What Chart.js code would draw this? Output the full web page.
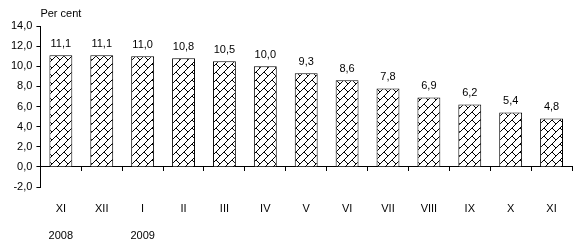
<!DOCTYPE html>
<html>
<head>
<meta charset="utf-8">
<script src="https://cdn.jsdelivr.net/npm/chart.js@4/dist/chart.umd.min.js"></script>
<style>
  html, body { margin: 0; padding: 0; background: #fff; }
  #wrap { width: 576px; height: 247px; }
</style>
</head>
<body>
<div id="wrap"><canvas id="rateChart" width="576" height="247"></canvas></div>
<script>
const months = ['XI', 'XII', 'I', 'II', 'III', 'IV', 'V', 'VI', 'VII', 'VIII', 'IX', 'X', 'XI'];
const years = ['2008', '', '2009', '', '', '', '', '', '', '', '', '', ''];
const rates = [11.1, 11.1, 11.0, 10.8, 10.5, 10.0, 9.3, 8.6, 7.8, 6.9, 6.2, 5.4, 4.8];
const yMin = -2;
const yMax = 14;
const yStep = 2;
const unitLabel = 'Per cent';

const FONT = "'Liberation Sans', Arial, sans-serif";
Chart.defaults.font.family = FONT;
Chart.defaults.font.size = 11;
Chart.defaults.color = '#000';

// diagonal brick hatch, like the old spreadsheet fill
function brickPattern() {
  const c = document.createElement('canvas');
  c.width = 8; c.height = 8;
  const g = c.getContext('2d');
  g.fillStyle = '#fff';
  g.fillRect(0, 0, 8, 8);
  g.strokeStyle = '#000';
  g.lineWidth = 1;
  g.beginPath();
  g.moveTo(-1, 9); g.lineTo(9, -1);
  g.moveTo(-1, 1); g.lineTo(1, -1);
  g.moveTo(7, 9); g.lineTo(9, 7);
  g.moveTo(0, 0); g.lineTo(4, 4);
  g.stroke();
  return g.createPattern(c, 'repeat');
}

const valueLabels = {
  id: 'valueLabels',
  afterDatasetsDraw(chart) {
    const ctx = chart.ctx;
    const meta = chart.getDatasetMeta(0);
    ctx.save();
    ctx.font = '11px ' + FONT;
    ctx.fillStyle = '#000';
    ctx.textAlign = 'center';
    ctx.textBaseline = 'bottom';
    meta.data.forEach((bar, i) => {
      ctx.fillText(rates[i].toFixed(1).replace('.', ','), bar.x, bar.y - 6);
    });
    ctx.textAlign = 'left';
    ctx.fillText(unitLabel, chart.chartArea.left, chart.chartArea.top - 7);
    ctx.restore();
  }
};

new Chart(document.getElementById('rateChart'), {
  type: 'bar',
  data: {
    labels: months.map((m, i) => [m, years[i]]),
    datasets: [{
      data: rates,
      backgroundColor: brickPattern(),
      borderColor: '#000',
      borderWidth: 1,
      barPercentage: 0.56,
      categoryPercentage: 1
    }]
  },
  options: {
    responsive: false,
    animation: false,
    layout: { padding: { top: 26, right: 4, bottom: 60, left: 7 } },
    plugins: { legend: { display: false }, tooltip: { enabled: false } },
    scales: {
      x: {
        position: { y: 0 },
        afterFit: s => { s.paddingLeft = 0; s.paddingRight = 0; },
        grid: { offset: true, drawOnChartArea: false, tickLength: 4, color: '#000' },
        border: { color: '#000' },
        ticks: { padding: 24, maxRotation: 0, font: { size: 11, lineHeight: 2.5 } }
      },
      y: {
        min: yMin,
        max: yMax,
        grid: { drawOnChartArea: false, tickLength: 4, color: '#000' },
        border: { color: '#000' },
        ticks: {
          stepSize: yStep,
          padding: 4,
          callback: v => v.toFixed(1).replace('.', ',')
        }
      }
    }
  },
  plugins: [valueLabels]
});
</script>
</body>
</html>
